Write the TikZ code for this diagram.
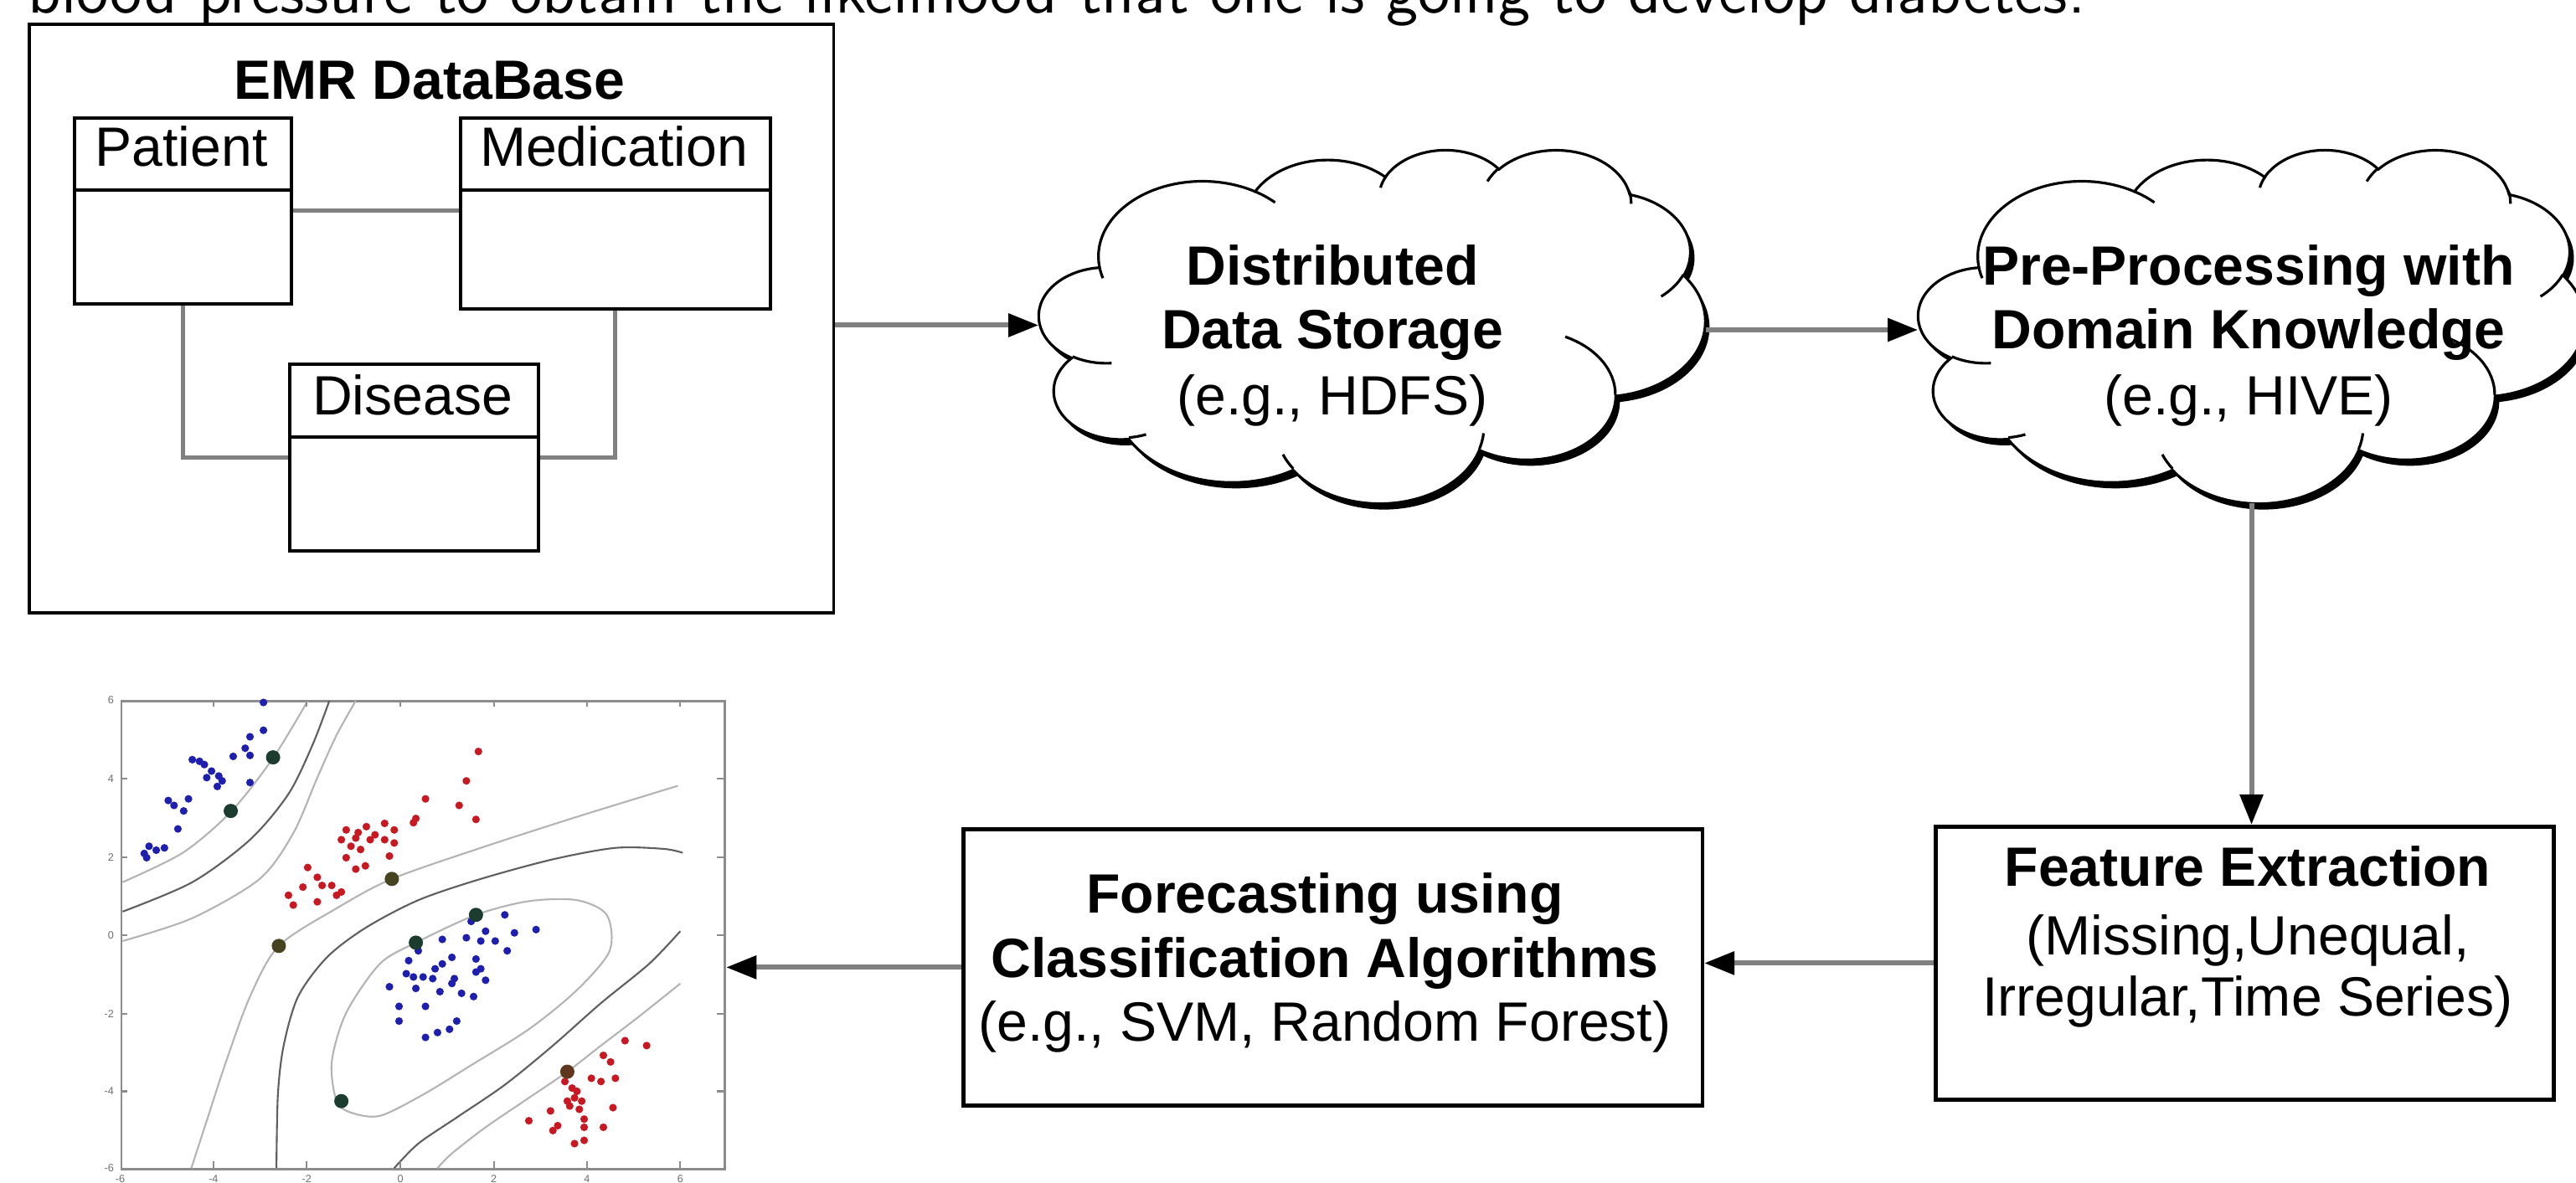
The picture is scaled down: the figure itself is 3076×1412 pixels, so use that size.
\documentclass[tikz,border=0pt]{standalone}
\usepackage{graphicx}
\usepackage{fontspec}
\setmainfont{Liberation Sans}
\usetikzlibrary{arrows.meta}
\definecolor{conngray}{RGB}{128,128,128}
\definecolor{dotblue}{RGB}{30,30,175}
\definecolor{dotred}{RGB}{200,25,35}
\definecolor{svteal}{RGB}{28,60,48}
\definecolor{svolive}{RGB}{70,68,32}
\definecolor{svbrown}{RGB}{95,55,30}
\definecolor{cdark}{RGB}{95,95,95}
\definecolor{clight}{RGB}{180,180,180}
\definecolor{framegray}{RGB}{140,140,140}
\definecolor{ticklabgray}{RGB}{110,110,110}

\newcommand{\cloudpath}{(9.028,33.264)
 arc[start angle=172.25,end angle=300.36,x radius=15.632,y radius=21.273]
 arc[start angle=-152.02,end angle=-45.43,x radius=12.345,y radius=16.822]
 arc[start angle=-153.48,end angle=-37.34,x radius=10.104,y radius=13.762]
 arc[start angle=-139.69,end angle=-10.21,x radius=11.243,y radius=15.266]
 arc[start angle=-74.77,end angle=23.21,x radius=12.345,y radius=16.836]
 arc[start angle=-37.54,end angle=81.86,x radius=15.683,y radius=21.343]
 arc[start angle=0.46,end angle=121.98,x radius=13.391,y radius=18.211]
 arc[start angle=16.84,end angle=146.25,x radius=15.630,y radius=21.331]
 arc[start angle=58.98,end angle=150.20,x radius=17.870,y radius=24.405]
 arc[start angle=83.31,end angle=223.09,x radius=10.093,y radius=13.699]
 arc[start angle=120.36,end angle=264.11,x radius=10.058,y radius=13.762]
 -- cycle}
\newcommand{\cloudinner}{
 (10.863,60.595) arc[start angle=85.55,end angle=120.36,x radius=10.058,y radius=13.762]
 (16.037,80.785) arc[start angle=68.24,end angle=83.31,x radius=10.093,y radius=13.699]
 (38.144,90.486) arc[start angle=146.25,end angle=158.47,x radius=15.630,y radius=21.331]
 (66.729,80.442) arc[start angle=4.74,end angle=16.84,x radius=15.630,y radius=21.331]
 (79.002,53.134) arc[start angle=-64.03,end angle=0.46,x radius=13.391,y radius=18.211]
 (96.755,35.542) arc[start angle=23.21,end angle=49.63,x radius=12.345,y radius=16.836]
 (88.713,12.560) arc[start angle=-10.21,end angle=0.82,x radius=11.243,y radius=15.266]
 (67.310,9.148) arc[start angle=-156.29,end angle=-139.69,x radius=11.243,y radius=15.266]
 (51.252,10.926) arc[start angle=-167.73,end angle=-153.48,x radius=10.104,y radius=13.762]
 (32.407,12.019) arc[start angle=-59.64,end angle=-45.72,x radius=15.632,y radius=21.273]
 (9.553,36.549) arc[start angle=163.19,end angle=172.25,x radius=15.632,y radius=21.273]}
\newcommand{\drawcloud}[2]{%
  \begin{scope}[shift={({#1+5},{#2+7})},xscale=7.95,yscale=4.22]
    \fill[black] \cloudpath;
  \end{scope}
  \begin{scope}[shift={(#1,#2)},xscale=7.95,yscale=4.22]
    \filldraw[fill=white,draw=black,line width=0.9pt] \cloudpath;
    \draw[black,line width=0.9pt] \cloudinner;
  \end{scope}}

\begin{document}
\begin{tikzpicture}[x=0.01cm,y=-0.01cm,
  txt/.style={inner sep=0pt,anchor=base,font=\fontsize{18.8}{22}\selectfont},
  btxt/.style={inner sep=0pt,anchor=base,font=\fontsize{18.8}{22}\selectfont\bfseries},
  umlbox/.style={draw=black,line width=1pt,fill=white,inner sep=0pt,anchor=north west},
  procbox/.style={draw=black,line width=1.3pt,fill=white,inner sep=0pt,anchor=north west},
  relline/.style={draw=conngray,line width=1.4pt},
  arr/.style={draw=conngray,line width=1.7pt,-{Triangle[length=0.36cm,width=0.27cm,color=black,fill=black]}},
  cloudbox/.style={inner sep=0pt,minimum width=7.95cm,minimum height=4.22cm},
  ticklab/.style={inner sep=0pt,text=ticklabgray,font=\fontsize{3.6}{4}\selectfont},
  contdark/.style={draw=cdark,line width=0.6pt},
  contlight/.style={draw=clight,line width=0.6pt},
  tickmark/.style={draw=framegray,line width=0.6pt},
]
\useasboundingbox (0,0) rectangle (3076,1412);
\clip (0,0) rectangle (3076,1412);
\fill[white] (0,0) rectangle (3076,1412);

% cut-off line of running text at the top
\node[anchor=base west,inner sep=0pt] (topline) at (33,15)
  {\resizebox{24.55cm}{!}{\sffamily blood pressure to obtain the likelihood that one is going to develop diabetes.}};

% ---------------- EMR database ----------------
\node[umlbox,minimum width=9.6cm,minimum height=7.03cm] (emr) at (33,27) {};
\node[btxt] (emrt) at (513,118) {EMR DataBase};
\node[umlbox,minimum width=2.59cm,minimum height=2.22cm] (pat) at (87,139) {};
\node[umlbox,minimum width=3.70cm,minimum height=2.28cm] (med) at (548,139) {};
\node[umlbox,minimum width=2.97cm,minimum height=2.23cm] (dis) at (344,433) {};
\draw[line width=1pt] ([yshift=-0.88cm]pat.north west) -- ([yshift=-0.88cm]pat.north east);
\draw[line width=1pt] ([yshift=-0.88cm]med.north west) -- ([yshift=-0.88cm]med.north east);
\draw[line width=1pt] ([yshift=-0.89cm]dis.north west) -- ([yshift=-0.89cm]dis.north east);
\node[txt] (patt) at (216.5,198) {Patient};
\node[txt] (medt) at (733,198) {Medication};
\node[txt] (dist) at (492.5,495) {Disease};
\draw[relline] (pat.east) -- (pat.east -| med.west);
\draw[relline] (pat.south) |- (dis.west);
\draw[relline] (med.south) |- (dis.east);

% ---------------- clouds ----------------
\drawcloud{1241}{178}
\node[cloudbox] (c1) at (1638.5,389) {};
\node[btxt] (c1a) at (1591,340) {Distributed};
\node[btxt] (c1b) at (1591,416) {Data Storage};
\node[txt]  (c1c) at (1591,495) {(e.g., HDFS)};

\drawcloud{2291}{178}
\node[cloudbox] (c2) at (2688.5,389) {};
\node[btxt] (c2a) at (2685,340) {Pre-Processing with};
\node[btxt] (c2b) at (2685,416) {Domain Knowledge};
\node[txt]  (c2c) at (2685,495) {(e.g., HIVE)};

% ---------------- process boxes ----------------
\node[procbox,minimum width=7.38cm,minimum height=3.26cm] (fe) at (2309,985) {};
\node[btxt] (fea) at (2684,1058) {Feature Extraction};
\node[txt]  (feb) at (2684,1140) {(Missing,Unequal,};
\node[txt]  (fec) at (2684,1213) {Irregular,Time Series)};

\node[procbox,minimum width=8.82cm,minimum height=3.30cm] (fc) at (1148,988) {};
\node[btxt] (fca) at (1582,1090) {Forecasting using};
\node[btxt] (fcb) at (1582,1167) {Classification Algorithms};
\node[txt]  (fcc) at (1582,1243) {(e.g., SVM, Random Forest)};

% ---------------- SVM plot ----------------
\node[draw=framegray,line width=0.8pt,inner sep=0pt,anchor=north west,
      minimum width=7.205cm,minimum height=5.59cm] (svmplot) at (143.5,836) {};
\begin{scope}[shift={(0,800)},xscale=0.5741,yscale=0.3903]
  \draw[contlight] plot[smooth] coordinates {(255,650) (380,560) (480,435) (568,270) (640,95)};
  \draw[contdark]  plot[smooth] coordinates {(255,740) (400,650) (520,520) (600,380) (650,230) (685,95)};
  \draw[contlight] plot[smooth] coordinates {(255,830) (400,760) (540,640) (610,500) (660,330) (700,200) (740,95)};
  \draw[contlight] plot[smooth] coordinates {(1410,355) (1200,450) (1000,545) (815,640) (700,730) (580,845) (520,1000) (470,1200) (430,1380) (398,1525)};
  \draw[contdark]  plot[smooth] coordinates {(1420,560) (1380,548) (1280,545) (1150,580) (1000,640) (870,705) (760,790) (680,880) (620,1000) (590,1150) (578,1300) (575,1525)};
  \draw[contlight] plot[smooth cycle] coordinates {(700,1320) (690,1200) (720,1050) (790,900) (865,835) (990,750) (1100,708) (1200,705) (1262,750) (1268,860) (1200,980) (1100,1100) (980,1210) (880,1300) (790,1365) (730,1355)};
  \draw[contdark]  plot[smooth] coordinates {(1415,800) (1350,900) (1250,1020) (1150,1150) (1050,1270) (950,1370) (870,1450) (820,1525)};
  \draw[contlight] plot[smooth] coordinates {(1415,960) (1330,1060) (1250,1150) (1180,1230) (1100,1310) (1010,1400) (940,1480) (910,1525)};
  \foreach \t in {333,573,812,1052,1290} {
    \draw[tickmark] (250,\t) -- ++(14,0);
    \draw[tickmark] (1505,\t) -- ++(-14,0);
  }
  \foreach \t in {444,638,833,1027,1221,1415} {
    \draw[tickmark] (\t,93) -- ++(0,20);
    \draw[tickmark] (\t,1525) -- ++(0,-20);
  }
  \foreach \t/\l [count=\i] in {93/6,333/4,573/2,812/0,1052/-2,1290/-4,1525/-6}
    \node[ticklab,anchor=east] (yl\i) at (238,\t) {\l};
  \foreach \t/\l [count=\i] in {250/-6,444/-4,638/-2,833/0,1027/2,1221/4,1415/6}
    \node[ticklab,anchor=north] (xl\i) at (\t,1545) {\l};
\end{scope}
% data points (display coordinates converted to picture coordinates)
\foreach \x/\y in {548/100,548/185,520/205,510/240,520/262,485/265,400/275,425/290,440/310,430/330,462/340,452/357,520/345,350/400,392/395,382/432,362/415,370/487,310/540,300/562,325/552,342/545,305/575,415/280,455/325,
  1050/750,1115/795,980/770,1010/800,1000/830,1030/830,970/820,920/825,1070/805,1055/860,940/880,920/900,990/885,850/890,870/860,880/940,860/940,900/945,945/945,990/925,1010/950,810/970,865/975,915/985,960/990,985/1000,830/1030,885/1030,830/1075,950/1075,935/1100,910/1110,885/1125,845/930,1000/915,940/960,905/915}
  \fill[dotblue] ({0.5741*\x},{800+0.3903*\y}) circle[radius=4.6];
\foreach \x/\y in {995/250,970/340,885/395,955/415,990/458,865/455,860/468,720/490,762/480,800/470,820/490,710/520,740/515,770/520,730/540,800/520,820/530,750/550,810/570,720/575,760/600,740/610,640/605,660/635,670/660,690/660,710/680,630/665,600/690,610/720,660/710,700/690,780/505,745/498,
  1300/1135,1345/1150,1255/1180,1270/1200,1280/1250,1230/1250,1250/1260,1190/1280,1195/1310,1210/1320,1185/1335,1275/1340,1145/1350,1100/1380,1215/1375,1160/1395,1150/1410,1215/1400,1255/1400,1195/1450,1215/1440,1175/1260,1200/1290,1205/1345,1180/1320}
  \fill[dotred] ({0.5741*\x},{800+0.3903*\y}) circle[radius=4.6];
\foreach \x/\y in {568/268,480/432,990/750,865/835,710/1320}
  \fill[svteal] ({0.5741*\x},{800+0.3903*\y}) circle[radius=8.5];
\foreach \x/\y in {815/640,580/845}
  \fill[svolive] ({0.5741*\x},{800+0.3903*\y}) circle[radius=8.5];
\fill[svbrown] ({0.5741*1180},{800+0.3903*1230}) circle[radius=8.5];

% ---------------- connectors ----------------
\path ([yshift=-0.08cm]emr.east) coordinate (a1);
\draw[arr] (a1) -- (a1 -| c1.west);
\path ([yshift=-0.05cm]c1.east) coordinate (a2);
\draw[arr] (a2) -- (a2 -| c2.west);
\draw[arr] (c2.south) -- (c2.south |- fe.north);
\draw[arr] (fe.west) -- (fe.west -| fc.east);
\draw[arr] (fc.west) -- (fc.west -| svmplot.east);
\end{tikzpicture}
\end{document}
